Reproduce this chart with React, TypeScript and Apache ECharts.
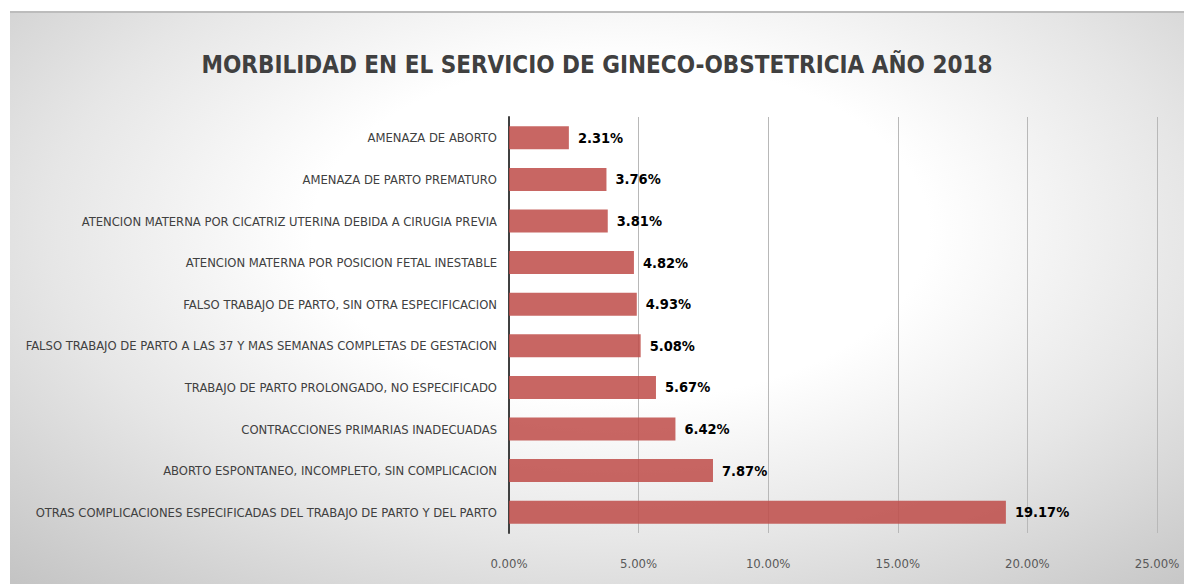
import React, { useEffect, useRef } from "react";
import * as echarts from "echarts";

const titleText = "MORBILIDAD EN EL SERVICIO DE GINECO-OBSTETRICIA AÑO 2018";

const categories = [
  "OTRAS COMPLICACIONES ESPECIFICADAS DEL TRABAJO DE PARTO Y DEL PARTO",
  "ABORTO ESPONTANEO, INCOMPLETO, SIN COMPLICACION",
  "CONTRACCIONES PRIMARIAS INADECUADAS",
  "TRABAJO DE PARTO PROLONGADO, NO ESPECIFICADO",
  "FALSO TRABAJO DE PARTO A LAS 37 Y MAS SEMANAS COMPLETAS DE GESTACION",
  "FALSO TRABAJO DE PARTO, SIN OTRA ESPECIFICACION",
  "ATENCION MATERNA POR POSICION FETAL INESTABLE",
  "ATENCION MATERNA POR CICATRIZ UTERINA DEBIDA A CIRUGIA PREVIA",
  "AMENAZA DE PARTO PREMATURO",
  "AMENAZA DE ABORTO",
];

const values = [19.17, 7.87, 6.42, 5.67, 5.08, 4.93, 4.82, 3.81, 3.76, 2.31];

const FONT = "'DejaVu Sans Condensed', 'Open Sans', sans-serif";

export default function App() {
  const ref = useRef<HTMLDivElement>(null);
  useEffect(() => {
    if (!ref.current) return;
    const chart = echarts.init(ref.current, null, { renderer: "svg" });
    chart.setOption({
      animation: false,
      backgroundColor: "transparent",
      title: {
        text: titleText,
        left: "center",
        top: 35,
        textStyle: {
          fontFamily: FONT,
          fontSize: 24,
          fontWeight: "bold",
          color: "#404040",
        },
      },
      grid: {
        left: 499,
        right: 27,
        top: 104,
        bottom: 51,
        containLabel: false,
        outerBoundsMode: "none",
      },
      xAxis: {
        type: "value",
        min: 0,
        max: 25,
        interval: 5,
        axisLine: { show: false },
        axisTick: { show: false },
        axisLabel: {
          margin: 24,
          fontFamily: FONT,
          fontSize: 13,
          color: "#595959",
          formatter: (v: number) => v.toFixed(2) + "%",
        },
        splitLine: { show: true, lineStyle: { color: "#b8b8b8", width: 1 } },
      },
      yAxis: {
        type: "category",
        data: categories,
        axisLine: { show: true, lineStyle: { color: "#404040", width: 2 } },
        axisTick: { show: false },
        axisLabel: {
          margin: 12,
          fontFamily: FONT,
          fontSize: 12.9,
          color: "#404040",
        },
      },
      series: [
        {
          type: "bar",
          data: values,
          barWidth: 23,
          itemStyle: { color: "rgba(190,75,72,0.85)" },
          label: {
            show: true,
            position: "right",
            distance: 9,
            fontFamily: FONT,
            fontSize: 14.5,
            fontWeight: "bold",
            color: "#000000",
            formatter: (p: any) => p.value.toFixed(2) + "%",
          },
        },
      ],
    });
    return () => chart.dispose();
  }, []);
  return (
    <div
      style={{
        position: "absolute",
        left: 10,
        top: 11,
        width: 1174,
        height: 573,
        boxSizing: "border-box",
        borderTop: "2px solid #bcbcbc",
        background:
          "radial-gradient(ellipse 75% 85% at 52% 38%, #ffffff 35%, #e6e6e6 65%, #c4c4c4 100%)",
      }}
    >
      <div ref={ref} style={{ width: 1174, height: 571 }} />
    </div>
  );
}
